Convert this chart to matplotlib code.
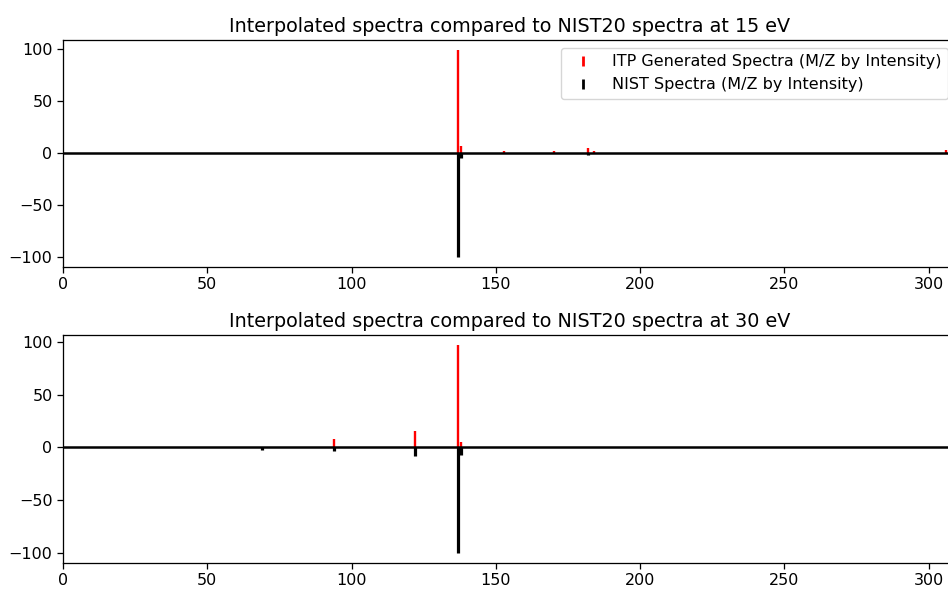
import matplotlib.pyplot as plt
from matplotlib.lines import Line2D

# peaks at 15 eV
itp_mz_15 = [137, 138, 153, 170, 182, 184, 306]
itp_int_15 = [99, 7, 2, 2, 4.5, 2, 2.5]
nist_mz_15 = [137, 138, 182]
nist_int_15 = [100, 5, 2]

# peaks at 30 eV
itp_mz_30 = [69, 94, 122, 137, 138]
itp_int_30 = [0.4, 8, 16, 97, 5]
nist_mz_30 = [69, 94, 122, 137, 138]
nist_int_30 = [2, 3.5, 8, 100, 7.5]

energies = ['15', '30']

s = 1.15
plt.rcParams.update({
    'font.size': 10 * s,
    'axes.linewidth': 0.8 * s,
    'xtick.major.size': 3.5 * s,
    'ytick.major.size': 3.5 * s,
    'xtick.major.width': 0.8 * s,
    'ytick.major.width': 0.8 * s,
})


def plot_spectra(ax, itp_mz, itp_int, nist_mz, nist_int, energy, legend=False):
    """Mirror plot: generated spectrum upward, reference spectrum downward."""
    ax.vlines(itp_mz, 0, itp_int, color='red', linewidth=1.7)
    ax.vlines(nist_mz, 0, [-v for v in nist_int], color='black', linewidth=2.3)
    ax.axhline(0, color='black', linewidth=1.8)
    ax.set_xlim(0, 309.5)
    ax.set_title(f"Interpolated spectra compared to NIST20 spectra at {energy} eV", fontsize=12 * s)
    if legend:
        handles = [
            Line2D([], [], color='red', marker='|', linestyle='none', markersize=7, markeredgewidth=2),
            Line2D([], [], color='black', marker='|', linestyle='none', markersize=7, markeredgewidth=2),
        ]
        ax.legend(handles, ["ITP Generated Spectra (M/Z by Intensity)",
                            "NIST Spectra (M/Z by Intensity)"], loc='upper right')


fig = plt.figure(figsize=(9.48, 5.89), dpi=100)
W, H = 948, 589
ax1 = fig.add_axes([63 / W, 1 - 267 / H, (956 - 63) / W, (267 - 40) / H])
ax2 = fig.add_axes([63 / W, 1 - 563 / H, (956 - 63) / W, (563 - 335) / H])

plot_spectra(ax1, itp_mz_15, itp_int_15, nist_mz_15, nist_int_15, energies[0], legend=True)
plot_spectra(ax2, itp_mz_30, itp_int_30, nist_mz_30, nist_int_30, energies[1])

fig.savefig('out.png', dpi=100)
